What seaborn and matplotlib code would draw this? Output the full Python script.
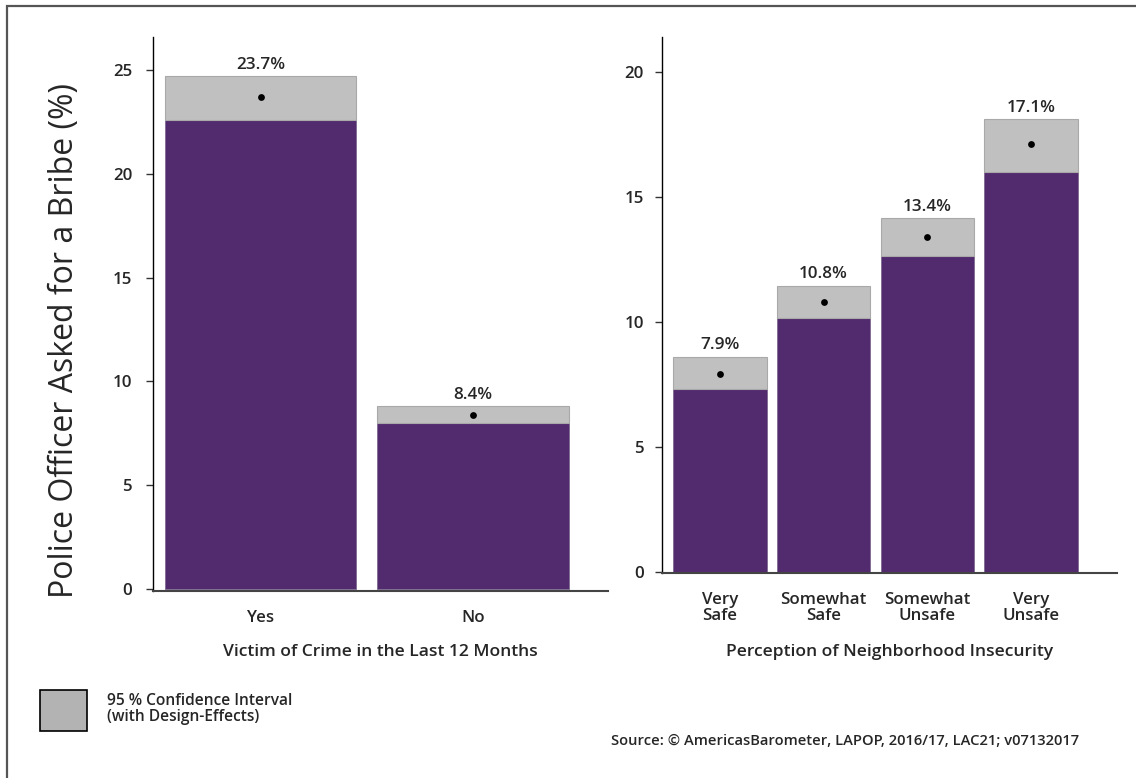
import matplotlib
matplotlib.use("Agg")
import matplotlib.pyplot as plt
import seaborn as sns
import pandas as pd
from matplotlib.patches import Rectangle

# ---- data ----
crime_cats = ["Yes", "No"]
crime_mean = [23.7, 8.4]
crime_lo = [22.6, 8.0]
crime_hi = [24.7, 8.8]

insec_cats = ["Very\nSafe", "Somewhat\nSafe", "Somewhat\nUnsafe", "Very\nUnsafe"]
insec_mean = [7.9, 10.8, 13.4, 17.1]
insec_lo = [7.3, 10.15, 12.65, 16.0]
insec_hi = [8.6, 11.45, 14.15, 18.1]

left_ticks = [0, 5, 10, 15, 20, 25]
right_ticks = [0, 5, 10, 15, 20]

PURPLE = "#522A6E"
GREY = "#C0C0C0"

sns.set_style("ticks")
plt.rcParams["font.family"] = ["Open Sans", "DejaVu Sans"]

W, H = 1136, 778
fig = plt.figure(figsize=(W / 100, H / 100), dpi=100)

def px_axes(x0, y0, x1, y1):
    return fig.add_axes([x0 / W, 1 - y1 / H, (x1 - x0) / W, (y1 - y0) / H])

axL = px_axes(153, 37, 608, 591)
axR = px_axes(662, 37, 1117, 573)

def panel(ax, cats, mean, lo, hi, ylim, xlim, ticks, xlabel, label_y, ypad):
    df = pd.DataFrame({"cat": cats, "mean": mean, "lo": lo, "hi": hi})
    sns.barplot(data=df, x="cat", y="mean", color=PURPLE, saturation=1,
                width=0.9, ax=ax, edgecolor="#7d6a90", linewidth=0.6, zorder=2)
    xs = range(len(cats))
    ax.bar(list(xs), [h - l for h, l in zip(hi, lo)], bottom=lo, width=0.9,
           color=GREY, edgecolor="#a9a9a9", linewidth=0.8, zorder=3)
    ax.scatter(list(xs), mean, s=24, color="black", zorder=4, linewidths=0)
    for x, m, h in zip(xs, mean, hi):
        ax.annotate(f"{m:.1f}%", (x, h), xytext=(0, 2.5), textcoords="offset points",
                    ha="center", va="bottom", fontsize=12.3, fontweight="semibold")
    ax.set_ylim(*ylim)
    ax.set_xlim(*xlim)
    ax.set_yticks(ticks)
    ax.set_ylabel("")
    ax.set_xlabel(xlabel, fontsize=12.6, fontweight="semibold")
    ax.xaxis.set_label_coords(0.5, label_y)
    ax.xaxis.label.set_va("center")
    ax.tick_params(axis="y", length=5, width=1, color="#333333", pad=ypad,
                   labelsize=12.2)
    ax.tick_params(axis="x", length=0, pad=14, labelsize=12.2)
    for lab in ax.get_xticklabels():
        lab.set_fontweight("semibold")
        lab.set_linespacing(0.98)
    for lab in ax.get_yticklabels():
        lab.set_fontweight("semibold")
    sns.despine(ax=ax)
    ax.spines["left"].set_color("black")
    ax.spines["left"].set_linewidth(1.0)
    ax.spines["bottom"].set_color("#444444")
    ax.spines["bottom"].set_linewidth(1.5)

panel(axL, crime_cats, crime_mean, crime_lo, crime_hi, (-0.1, 26.6), (-0.506, 1.635),
      left_ticks, "Victim of Crime in the Last 12 Months", -0.110, 10)
panel(axR, insec_cats, insec_mean, insec_lo, insec_hi, (-0.05, 21.4), (-0.56, 3.83),
      right_ticks, "Perception of Neighborhood Insecurity", -0.147, 8)

fig.text(65 / W, 1 - 340 / H, "Police Officer Asked for a Bribe (%)", rotation=90,
         ha="center", va="center", fontsize=23, fontweight="medium")

# legend
fig.patches.append(Rectangle((40 / W, 1 - 731 / H), 47 / W, 41 / H,
                             transform=fig.transFigure, facecolor="#B3B3B3",
                             edgecolor="black", linewidth=1.2))
fig.text(107 / W, 1 - 709 / H, "95 % Confidence Interval\n(with Design-Effects)",
         ha="left", va="center", fontsize=11.2, fontweight="semibold", linespacing=0.92)

fig.text(1079 / W, 1 - 741 / H,
         "Source: \u00a9 AmericasBarometer, LAPOP, 2016/17, LAC21; v07132017",
         ha="right", va="center", fontsize=10.6, fontweight="semibold")

# frame border
fig.patches.append(Rectangle((7 / W, -0.1), 1.2, 1 - 6 / H + 0.1,
                             transform=fig.transFigure, fill=False,
                             edgecolor="#555555", linewidth=1.6))

fig.savefig("out.png", dpi=100)
